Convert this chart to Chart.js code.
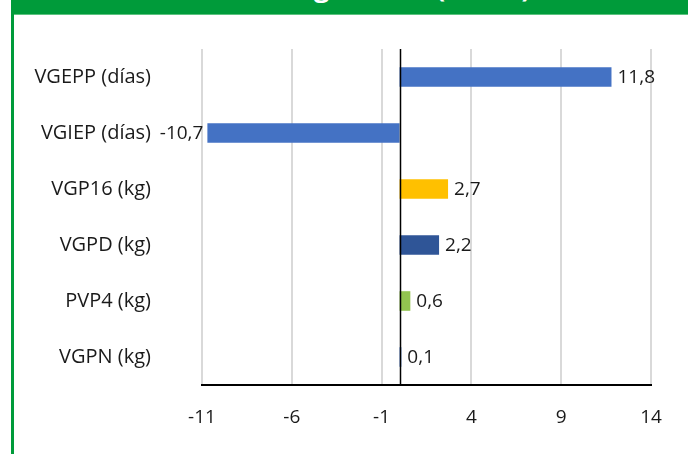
<!DOCTYPE html>
<html>
<head>
<meta charset="utf-8">
<script src="https://cdn.jsdelivr.net/npm/chart.js@4"></script>
<style>
  html, body { margin: 0; padding: 0; background: #fff; }
  #wrap { position: relative; width: 688px; height: 454px; overflow: hidden; }
  #banner { position: absolute; left: 11px; top: 0; width: 677px; height: 14px; background: #009B3A; overflow: hidden; }
  #banner span { position: absolute; left: 0; width: 677px; text-align: center; top: -27px; color: #fff; font: bold 27px "Open Sans", sans-serif; line-height: 27px; white-space: nowrap; }
  #bannerLine { position: absolute; left: 11px; top: 14px; width: 677px; height: 1px; background: #5CC27F; }
  #leftLine { position: absolute; left: 11px; top: 0; width: 3px; height: 454px; background: #009B3A; }
  canvas { position: absolute; left: 0; top: 0; }
</style>
</head>
<body>
<div id="wrap">
  <canvas id="c" width="688" height="454"></canvas>
  <div id="banner"><span>Tendencia genética (anual)</span></div>
  <div id="bannerLine"></div>
  <div id="leftLine"></div>
</div>
<script>
const categories = ["VGEPP (días)", "VGIEP (días)", "VGP16 (kg)", "VGPD (kg)", "PVP4 (kg)", "VGPN (kg)"];
const values = [11.8, -10.7, 2.7, 2.2, 0.6, 0.1];
const barColors = ["#4472C4", "#4472C4", "#FFC000", "#2F5597", "#92C450", "#4472C4"];
const xTicks = [-11, -6, -1, 4, 9, 14];

const FONT = "'Open Sans', sans-serif";
const fmt = v => String(v).replace('.', ',');

const zeroLine = {
  id: 'zeroLine',
  afterDatasetsDraw(chart) {
    const {ctx, chartArea, scales} = chart;
    const x = Math.round(scales.x.getPixelForValue(0)) + 0.5;
    ctx.save();
    ctx.strokeStyle = '#000';
    ctx.lineWidth = 1.5;
    ctx.beginPath();
    ctx.moveTo(x, chartArea.top);
    ctx.lineTo(x, chartArea.bottom);
    ctx.stroke();
    ctx.restore();
  }
};

const dataLabels = {
  id: 'dataLabels',
  afterDatasetsDraw(chart) {
    const {ctx} = chart;
    const meta = chart.getDatasetMeta(0);
    ctx.save();
    ctx.font = "19px " + FONT;
    ctx.fillStyle = '#1a1a1a';
    ctx.textBaseline = 'middle';
    meta.data.forEach((bar, i) => {
      const v = values[i];
      if (v >= 0) {
        ctx.textAlign = 'left';
        ctx.fillText(fmt(v), bar.x + 6, bar.y + 1);
      } else {
        ctx.textAlign = 'right';
        ctx.fillText(fmt(v), bar.x - 4, bar.y + 1);
      }
    });
    ctx.restore();
  }
};

new Chart(document.getElementById('c'), {
  type: 'bar',
  data: {
    labels: categories,
    datasets: [{
      data: values,
      backgroundColor: barColors,
      borderWidth: 0,
      categoryPercentage: 1,
      barPercentage: 0.35
    }]
  },
  options: {
    indexAxis: 'y',
    responsive: false,
    animation: false,
    events: [],
    layout: { padding: { top: 49, right: 37, bottom: 0, left: 0 } },
    plugins: { legend: { display: false }, tooltip: { enabled: false }, title: { display: false } },
    scales: {
      x: {
        min: -11, max: 14,
        afterBuildTicks(scale) { scale.ticks = xTicks.map(v => ({ value: v })); },
        afterFit(scale) { scale.height = 69; },
        grid: { color: '#D9D9D9', lineWidth: 2, drawTicks: false },
        border: { display: true, color: '#000', width: 2 },
        ticks: { padding: 21, color: '#1a1a1a', font: { family: FONT, size: 19 }, callback: v => String(v) }
      },
      y: {
        afterFit(scale) { scale.width = 202; scale.paddingTop = 0; scale.paddingBottom = 0; },
        grid: { display: false, drawTicks: false },
        border: { display: false },
        ticks: { padding: 51, color: '#1a1a1a', font: { family: FONT, size: 20 } }
      }
    }
  },
  plugins: [zeroLine, dataLabels]
});
</script>
</body>
</html>
